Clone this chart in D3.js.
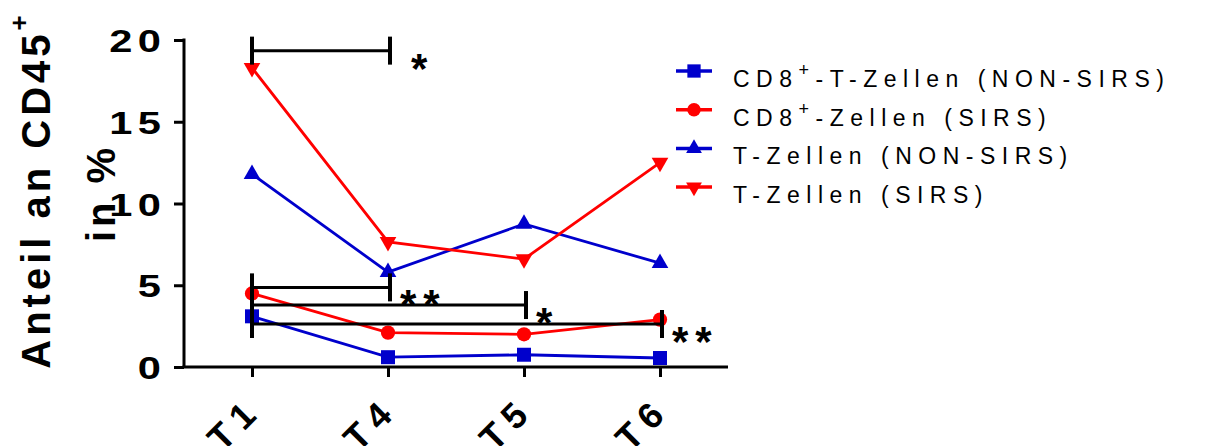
<!DOCTYPE html>
<html>
<head>
<meta charset="utf-8">
<script src="https://cdn.jsdelivr.net/npm/d3@7"></script>
<style>
    body { margin: 0; background: #fff; }
    svg { display: block; font-family: "Liberation Sans", Arial, sans-serif; }
</style>
</head>
<body>
<svg id="chart" width="1225" height="446"></svg>
<script>
// values
const categories = ["T1", "T4", "T5", "T6"];
const cd8NonSirs = [3.1, 0.6, 0.75, 0.55];
const cd8Sirs = [4.5, 2.1, 2.0, 2.9];
const tNonSirs = [11.8, 5.8, 8.75, 6.35];
const tSirs = [18.3, 7.65, 6.6, 12.5];
const yTicks = [0, 5, 10, 15, 20];
const seriesNames = ["CD8⁺-T-Zellen (NON-SIRS)", "CD8⁺-Zellen (SIRS)", "T-Zellen (NON-SIRS)", "T-Zellen (SIRS)"];
// significance brackets: from, to, height (data units), label
const bracketFrom = ["T1", "T1", "T1", "T1"];
const bracketTo = ["T4", "T4", "T5", "T6"];
const bracketY = [19.35, 4.87, 3.79, 2.63];
const bracketLabel = ["*", "**", "*", "**"];

const BLUE = "#0000cc", RED = "#ff0000";
const series = [
    {name: seriesNames[0], values: cd8NonSirs, color: BLUE, shape: d3.symbolSquare, size: 196, rot: 0},
    {name: seriesNames[1], values: cd8Sirs, color: RED, shape: d3.symbolCircle, size: 160, rot: 0},
    {name: seriesNames[2], values: tNonSirs, color: BLUE, shape: d3.symbolTriangle, size: 120, rot: 0},
    {name: seriesNames[3], values: tSirs, color: RED, shape: d3.symbolTriangle, size: 120, rot: 180}
];

const svg = d3.select("#chart");

const x = d3.scalePoint().domain(categories).range([184, 728]).padding(0.5);
const y = d3.scaleLinear().domain([0, 20]).range([367, 40]);

// y axis
const yAxis = svg.append("g")
    .attr("transform", "translate(184,0)")
    .call(d3.axisLeft(y).tickValues(yTicks).tickSize(10).tickPadding(12).tickSizeOuter(0));
yAxis.select(".domain").attr("stroke", "#000").attr("stroke-width", 3).attr("d", "M0," + (y(20) - 1.5) + "V" + y(0));
yAxis.selectAll(".tick line").attr("stroke-width", 3);
yAxis.selectAll(".tick text")
    .attr("font-size", 32).attr("font-weight", "bold").attr("fill", "#000")
    .style("letter-spacing", "4px")
    .attr("x", 0).attr("dy", "0.36em")
    .attr("transform", "translate(-18,0) scale(1.3,1)");

// x axis
const xAxis = svg.append("g")
    .attr("transform", "translate(0," + y(0) + ")")
    .call(d3.axisBottom(x).tickSize(10).tickSizeOuter(0));
xAxis.select(".domain").attr("stroke", "#000").attr("stroke-width", 3).attr("d", "M182.5,0H728");
xAxis.selectAll(".tick line").attr("stroke-width", 3);
xAxis.selectAll(".tick text")
    .attr("font-size", 36).attr("font-weight", "bold").attr("fill", "#000")
    .style("letter-spacing", "8px")
    .attr("x", 0).attr("y", 0).attr("dy", 0)
    .style("text-anchor", "end")
    .attr("transform", "translate(11,45) rotate(-45)");

// y title, two lines
function supText(sel, str, supSize, shift) {
    const parts = str.split("⁺");
    parts.forEach((p, i) => {
        if (i > 0) {
            sel.append("tspan").attr("font-size", supSize).attr("dy", -shift).text("+");
            sel.append("tspan").attr("dy", shift).text(p);
        } else {
            sel.append("tspan").text(p);
        }
    });
}
const title1 = svg.append("text")
    .attr("transform", "translate(50,190) rotate(-90)")
    .attr("text-anchor", "middle")
    .attr("font-size", 40).attr("font-weight", "bold")
    .style("letter-spacing", "4px");
supText(title1, "Anteil an CD45⁺", 26, 22);
svg.append("text")
    .attr("transform", "translate(115,193) rotate(-90)")
    .attr("text-anchor", "middle")
    .attr("font-size", 40).attr("font-weight", "bold")
    .style("letter-spacing", "4px")
    .text("in %");

// lines and markers
const line = d3.line().x((d, i) => x(categories[i])).y(d => y(d));
series.forEach(s => {
    svg.append("path")
        .attr("d", line(s.values))
        .attr("fill", "none").attr("stroke", s.color).attr("stroke-width", 2.8);
    svg.selectAll(null).data(s.values).enter().append("path")
        .attr("d", d3.symbol().type(s.shape).size(s.size))
        .attr("fill", s.color)
        .attr("transform", (d, i) => "translate(" + x(categories[i]) + "," + y(d) + ") rotate(" + s.rot + ")");
});

// significance brackets
const cap = 14;
bracketY.forEach((v, i) => {
    const x0 = x(bracketFrom[i]), x1 = x(bracketTo[i]) + 2, yy = y(v);
    const g = svg.append("g").attr("stroke", "#000");
    g.append("line").attr("x1", x0).attr("x2", x1).attr("y1", yy).attr("y2", yy).attr("stroke-width", 3);
    g.append("line").attr("x1", x0).attr("x2", x0).attr("y1", yy - cap).attr("y2", yy + cap).attr("stroke-width", 4);
    g.append("line").attr("x1", x1).attr("x2", x1).attr("y1", yy - cap).attr("y2", yy + cap).attr("stroke-width", 4);
    svg.append("text")
        .attr("x", x1 + (i === 0 ? 21 : 10)).attr("y", yy + 32)
        .attr("font-size", 42).attr("font-weight", "bold")
        .style("letter-spacing", "7px")
        .text(bracketLabel[i]);
});

// legend
const legend = svg.append("g").attr("transform", "translate(676,71)");
series.forEach((s, i) => {
    const row = legend.append("g").attr("transform", "translate(0," + (i * 38.7) + ")");
    row.append("line").attr("x1", 0).attr("x2", 36).attr("stroke", s.color).attr("stroke-width", 3.5);
    row.append("path")
        .attr("d", d3.symbol().type(s.shape).size(s.size * 0.9))
        .attr("fill", s.color)
        .attr("transform", "translate(18,0) rotate(" + s.rot + ")");
    const t = row.append("text")
        .attr("x", 57).attr("y", 16)
        .attr("font-size", 23)
        .style("letter-spacing", "6.5px");
    supText(t, s.name, 18, 11);
});
</script>
</body>
</html>
